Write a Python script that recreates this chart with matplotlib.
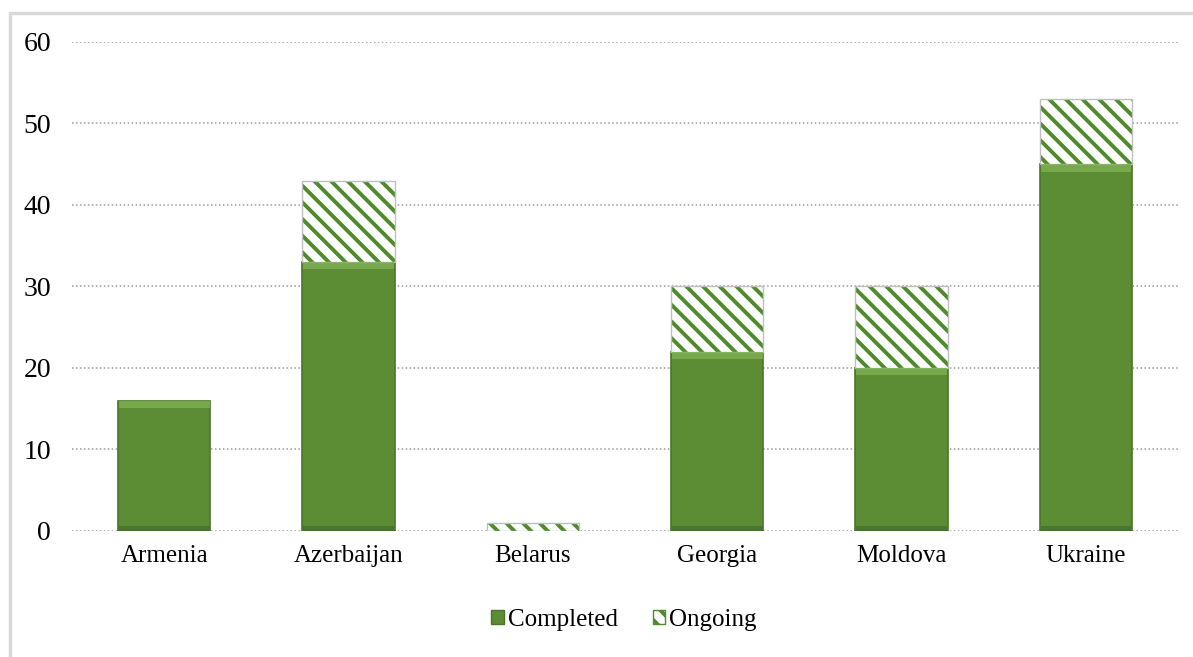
import matplotlib
matplotlib.use('Agg')
import matplotlib.pyplot as plt
from matplotlib.patches import Rectangle, Patch

plt.rcParams['font.family'] = ['Liberation Serif', 'DejaVu Serif']
plt.rcParams['hatch.linewidth'] = 2.8

countries = ['Armenia', 'Azerbaijan', 'Belarus', 'Georgia', 'Moldova', 'Ukraine']
completed = [16, 33, 0, 22, 20, 45]
ongoing = [0, 10, 1, 8, 10, 8]
y_ticks = [0, 10, 20, 30, 40, 50, 60]

GREEN = '#5c8d34'
GREEN_EDGE = '#4a7527'
GREEN_LIGHT = '#7fb052'
HATCH_GREEN = '#4f8a2b'

fig = plt.figure(figsize=(11.93, 6.57), dpi=100)
ax = fig.add_axes([0.0604, 0.1918, 0.9271, 0.7443])

# outer frame of the chart area
fig.patches.append(Rectangle((10 / 1193, -0.1), 1.2, 1 - 13 / 657 + 0.1,
                             transform=fig.transFigure, fill=False,
                             edgecolor='#d9d9d9', linewidth=2.5, zorder=0))

x = list(range(len(countries)))
width = 0.5

bars_done = ax.bar(x, completed, width=width, color=GREEN, edgecolor=GREEN_EDGE,
                   linewidth=1.2, zorder=3)
bars_ongo = ax.bar(x, ongoing, width=width, bottom=completed, color='white',
                   edgecolor=HATCH_GREEN, hatch='\\\\', linewidth=0, zorder=3)

# outline the hatched segments in light grey
for b in bars_ongo:
    if b.get_height() > 0:
        ax.add_patch(Rectangle((b.get_x(), b.get_y()), b.get_width(), b.get_height(),
                               fill=False, edgecolor='#bfbfbf', linewidth=1.0, zorder=4))

# bevel highlight on top of the solid bars
for b in bars_done:
    h = b.get_height()
    if h > 0:
        ax.add_patch(Rectangle((b.get_x() + 0.004, b.get_y() + h - 0.9), b.get_width() - 0.008, 0.9,
                               facecolor=GREEN_LIGHT, edgecolor='none', alpha=0.8, zorder=4))
        ax.add_patch(Rectangle((b.get_x() + 0.004, b.get_y()), b.get_width() - 0.008, 0.6,
                               facecolor='#46702a', edgecolor='none', alpha=0.8, zorder=4))

ax.set_xlim(-0.5, len(countries) - 0.5)
ax.set_ylim(0, 60)
ax.set_yticks(y_ticks)
ax.set_yticklabels([str(t) for t in y_ticks], fontsize=20)
ax.set_xticks(x)
ax.set_xticklabels(countries, fontsize=18)
ax.tick_params(axis='both', length=0)
ax.tick_params(axis='y', pad=15)
ax.tick_params(axis='x', pad=10)

ax.grid(axis='y', color='#9a9a9a', linestyle=(0, (1, 1.6)), linewidth=1.1, zorder=0)
for s in ax.spines.values():
    s.set_visible(False)

handles = [Patch(facecolor=GREEN, edgecolor=GREEN_EDGE, label='Completed'),
           Patch(facecolor='white', edgecolor=HATCH_GREEN, hatch='\\\\', label='Ongoing')]
fig.legend(handles=handles, loc='center', bbox_to_anchor=(0.523, 0.057), ncol=2,
           frameon=False, fontsize=18, handlelength=0.5, handleheight=0.5,
           handletextpad=0.15, columnspacing=1.4)

fig.savefig('out.png', dpi=100)
